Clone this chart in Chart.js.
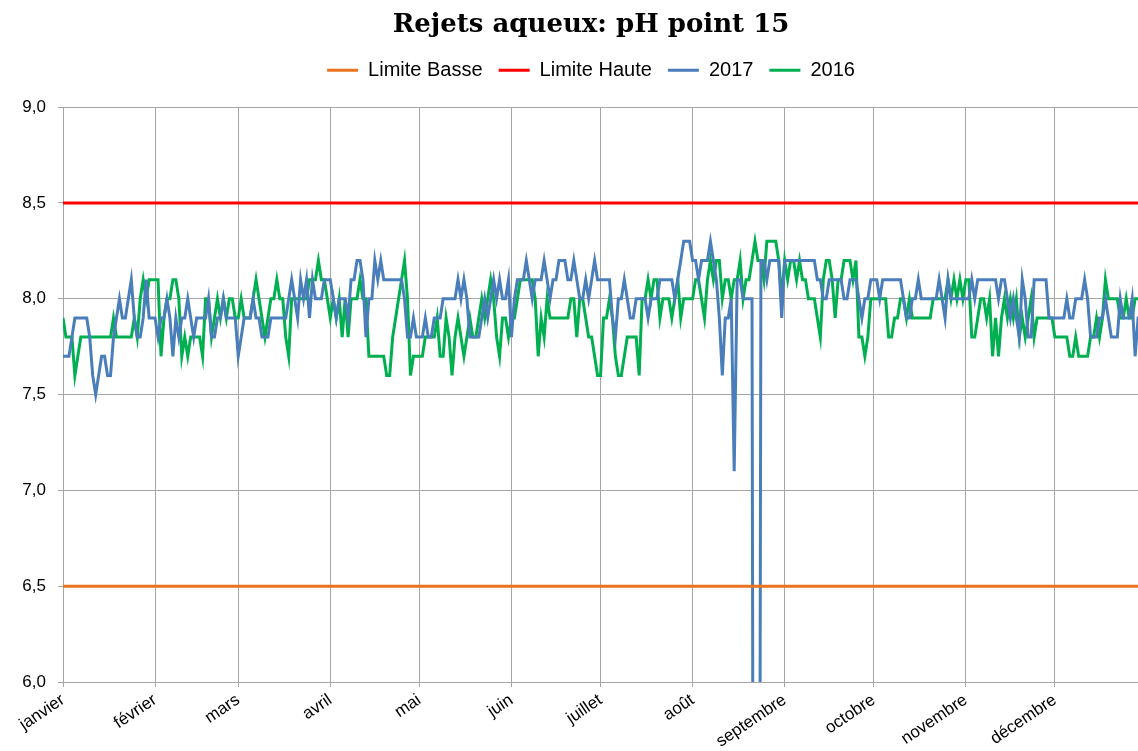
<!DOCTYPE html>
<html>
<head>
<meta charset="utf-8">
<title>Rejets aqueux: pH point 15</title>
<script src="https://cdn.jsdelivr.net/npm/chart.js@4/dist/chart.umd.min.js"></script>
<style>
  html, body { margin: 0; padding: 0; background: #fff; overflow: hidden; }
  #wrap { width: 1182px; height: 751px; }
</style>
</head>
<body>
<div id="wrap"><canvas id="myChart" width="1182" height="751"></canvas></div>
<script>
// month names and the day of year where each month starts
var mois = ['janvier', 'février', 'mars', 'avril', 'mai', 'juin', 'juillet', 'août', 'septembre', 'octobre', 'novembre', 'décembre'];
var debutMois = [0, 31, 59, 90, 120, 151, 181, 212, 243, 273, 304, 334];
var yTicks = [6.0, 6.5, 7.0, 7.5, 8.0, 8.5, 9.0];

var limiteBasse = 6.5;
var limiteHaute = 8.5;

// daily pH, one line per month (0 = empty cell plotted as zero by the source sheet)
var ph2017 = [
  7.7,7.7,7.7,7.8,7.9,7.9,7.9,7.9,7.9,7.8, 7.6,7.5,7.6,7.7,7.7,7.6,7.6,7.8,7.9,8.0, 7.9,7.9,8.0,8.1,7.9,7.8,7.8,7.9,8.1,7.9,7.9,
  7.9,7.8,7.9,7.9,8.0,7.9,7.7,7.9,7.8,7.9, 7.9,8.0,7.9,7.8,7.9,7.9,7.9,7.9,8.0,7.8, 7.8,7.9,7.9,8.0,7.9,7.9,7.9,7.9,
  7.7,7.8,7.9,7.9,7.9,8.0,7.9,7.9,7.8,7.8, 7.8,7.9,7.9,7.9,7.9,7.9,7.9,8.0,8.1,8.0, 7.9,8.1,8.0,8.1,7.9,8.1,8.0,8.0,8.0,8.1,8.1,
  8.1,8.0,7.9,8.0,8.0,8.0,7.9,8.1,8.1,8.2, 8.2,8.1,7.8,8.0,8.0,8.2,8.1,8.2,8.1,8.1, 8.1,8.1,8.1,8.1,8.1,8.0,7.8,7.8,7.9,7.8,
  7.8,7.8,7.9,7.8,7.8,7.9,7.9,7.9,8.0,8.0, 8.0,8.0,8.0,8.1,8.0,8.1,8.0,7.8,7.8,7.8, 7.8,7.9,8.0,7.9,8.0,8.1,8.0,8.1,8.0,8.0,8.1,
  7.8,8.0,8.1,8.1,8.1,8.2,8.1,8.0,8.1,8.1, 8.1,8.2,8.1,8.0,8.1,8.1,8.2,8.2,8.2,8.1, 8.1,8.2,8.1,8.0,8.0,8.1,8.0,8.1,8.2,8.1,
  8.1,8.1,8.1,8.1,7.9,7.8,8.0,8.0,8.1,8.0, 7.9,7.9,8.0,8.0,8.0,8.0,7.9,8.0,8.0,8.0, 8.1,8.1,8.1,8.1,8.1,8.0,8.1,8.2,8.3,8.3,8.3,
  8.2,8.2,8.1,8.2,8.2,8.2,8.3,8.2,8.1,7.9, 7.6,7.9,7.9,8.0,7.1,8.1,8.1,8.0,8.0,8.0, 8.0,0,0,8.2,8.2,8.1,8.2,8.2,8.2,8.2,7.9,
  8.2,8.2,8.2,8.2,8.2,8.2,8.2,8.2,8.2,8.2, 8.2,8.1,8.1,8.0,8.0,8.1,8.1,8.1,8.1,8.1, 8.0,8.0,8.1,8.1,8.1,8.0,7.9,8.0,8.0,8.1,
  8.1,8.1,8.0,8.1,8.1,8.1,8.1,8.1,8.1,8.1, 8.0,7.9,7.9,8.0,8.0,8.1,8.0,8.0,8.0,8.0, 8.0,8.0,8.1,8.0,7.9,8.1,8.0,8.0,8.0,8.0,8.0,
  8.0,8.0,8.1,8.0,8.1,8.1,8.1,8.1,8.1,8.1, 8.1,8.0,8.1,8.1,8.0,7.9,8.0,7.9,7.8,8.1, 8.0,7.8,7.8,8.1,8.1,8.1,8.1,8.1,7.9,7.9,
  7.9,7.9,7.9,7.9,8.0,7.9,7.9,8.0,8.0,8.0, 8.1,8.0,7.8,7.8,7.8,7.9,7.9,8.0,7.9,7.8, 7.8,7.8,8.0,7.9,7.9,7.9,8.0,7.7,7.9,7.9,8.0
];

var ph2016 = [
  7.9,7.8,7.8,7.8,7.6,7.7,7.8,7.8,7.8,7.8, 7.8,7.8,7.8,7.8,7.8,7.8,7.8,7.9,7.8,7.8, 7.8,7.8,7.8,7.8,7.9,7.8,8.0,8.1,8.0,8.1,8.1,
  8.1,8.1,7.7,7.9,8.0,8.0,8.1,8.1,8.0,7.7, 7.8,7.7,7.8,7.8,7.8,7.8,7.7,8.0,8.0,7.8, 7.9,8.0,7.9,8.0,7.9,8.0,8.0,7.9,
  7.9,8.0,7.9,7.9,7.9,8.0,8.1,8.0,7.9,7.8, 7.9,8.0,8.0,8.1,8.0,8.0,7.8,7.7,8.0,8.0, 8.0,8.0,8.0,8.0,8.1,8.1,8.1,8.2,8.1,8.1,8.0,
  7.9,8.0,7.9,8.0,7.8,8.0,7.8,8.0,8.0,8.0, 8.1,8.0,8.0,7.7,7.7,7.7,7.7,7.7,7.7,7.6, 7.6,7.8,7.9,8.0,8.1,8.2,8.0,7.6,7.7,7.7,
  7.7,7.7,7.8,7.8,7.8,7.8,7.9,7.7,7.7,7.9, 7.8,7.6,7.8,7.9,7.8,7.7,7.8,7.9,7.8,7.8, 7.9,8.0,7.9,8.0,8.1,8.0,7.8,7.7,7.9,7.9,7.8,
  7.9,7.9,8.0,8.1,8.1,8.1,8.1,8.1,8.0,7.7, 7.9,7.8,8.0,7.9,7.9,7.9,7.9,7.9,7.9,7.9, 8.0,8.0,7.8,8.0,8.0,7.9,7.8,7.8,7.7,7.6,
  7.6,7.9,7.9,8.0,7.9,7.7,7.6,7.6,7.7,7.8, 7.8,7.8,7.8,7.6,8.0,8.0,8.1,8.0,8.1,8.1, 7.9,8.0,8.0,8.0,7.9,8.0,8.1,7.9,8.0,8.0,8.0,
  8.0,8.1,8.1,8.0,7.9,8.1,8.2,8.1,8.2,8.2, 8.0,8.1,8.1,8.0,8.1,8.1,8.2,8.0,8.1,8.1, 8.2,8.3,8.2,8.2,8.1,8.3,8.3,8.3,8.3,8.2,8.0,
  8.2,8.1,8.2,8.2,8.1,8.2,8.1,8.1,8.0,8.0, 8.0,7.9,7.8,8.1,8.2,8.2,8.1,7.9,8.1,8.1, 8.2,8.2,8.2,8.1,8.2,7.8,7.8,7.7,7.8,8.0,
  8.0,8.0,8.0,8.0,8.0,7.8,7.8,7.9,7.9,8.0, 8.0,7.9,8.0,7.9,7.9,7.9,7.9,7.9,7.9,7.9, 8.0,8.0,8.0,8.0,8.0,8.1,8.0,8.1,8.0,8.1,8.0,
  8.1,8.1,7.8,7.8,7.9,8.0,8.0,7.9,8.0,7.7, 7.9,7.7,7.9,8.0,7.9,8.0,7.9,8.0,7.8,7.9, 7.8,7.9,8.0,7.8,7.9,7.9,7.9,7.9,7.9,7.9,
  7.8,7.8,7.8,7.8,7.8,7.7,7.7,7.8,7.7,7.7, 7.7,7.7,7.8,7.8,7.9,7.8,7.9,8.1,8.0,8.0, 8.0,8.0,7.9,7.9,8.0,7.9,7.9,8.0,8.0,8.0,8.0
];

var jours = ph2017.map(function (v, i) { return i; });

function serie(valeurs) {
  return valeurs.map(function (v, i) { return { x: jours[i], y: v }; });
}
function constante(v) {
  return jours.map(function (j) { return { x: j, y: v }; });
}

var ctx = document.getElementById('myChart');
var chart = new Chart(ctx, {
  type: 'line',
  data: {
    datasets: [
      { label: 'Limite Basse', data: constante(limiteBasse), borderColor: '#E9731E', backgroundColor: '#E9731E' },
      { label: 'Limite Haute', data: constante(limiteHaute), borderColor: '#FF0000', backgroundColor: '#FF0000' },
      { label: '2017', data: serie(ph2017), borderColor: '#4A7EBB', backgroundColor: '#4A7EBB' },
      { label: '2016', data: serie(ph2016), borderColor: '#00B050', backgroundColor: '#00B050' }
    ]
  },
  options: {
    responsive: false,
    animation: false,
    devicePixelRatio: 1,
    elements: {
      point: { radius: 0 },
      line: { borderWidth: 3, tension: 0 }
    },
    layout: { padding: { top: 6, right: 0, left: 0, bottom: 0 } },
    plugins: {
      title: {
        display: true,
        text: 'Rejets aqueux: pH point 15',
        color: '#000',
        font: { family: 'DejaVu Serif', size: 26, weight: 'bold' },
        padding: { top: 4, bottom: 3 }
      },
      // empty block between legend and plot, only to push the plot down
      subtitle: {
        display: true,
        text: '',
        weight: 500,
        font: { size: 2, lineHeight: 1 },
        padding: { top: 0, bottom: 15 }
      },
      legend: {
        labels: {
          usePointStyle: true,
          pointStyle: 'line',
          pointStyleWidth: 31,
          color: '#000',
          font: { family: 'Liberation Sans', size: 20 },
          padding: 16,
          generateLabels: function (c) {
            return c.data.datasets.map(function (ds, i) {
              return {
                text: ds.label, datasetIndex: i, pointStyle: 'line',
                strokeStyle: ds.borderColor, fillStyle: ds.borderColor, lineWidth: 3, fontColor: '#000'
              };
            });
          }
        }
      },
      tooltip: { enabled: false }
    },
    scales: {
      x: {
        type: 'linear',
        min: 0,
        max: 365,
        afterBuildTicks: function (s) {
          s.ticks = debutMois.map(function (d) { return { value: d }; });
        },
        afterFit: function (s) { s.height = 69; },
        ticks: {
          autoSkip: false,
          minRotation: 34,
          maxRotation: 34,
          color: '#000',
          font: { family: 'Liberation Sans', size: 17 },
          callback: function (v) { return mois[debutMois.indexOf(v)]; }
        },
        grid: { color: '#A6A6A6', lineWidth: 1, drawTicks: true, tickLength: 5 },
        border: { color: '#A6A6A6' }
      },
      y: {
        min: 6,
        max: 9,
        afterBuildTicks: function (s) {
          s.ticks = yTicks.map(function (v) { return { value: v }; });
        },
        afterFit: function (s) { s.width = 63; },
        ticks: {
          color: '#000',
          font: { family: 'Liberation Sans', size: 17 },
          padding: 12,
          callback: function (v) { return v.toFixed(1).replace('.', ','); }
        },
        grid: { color: '#A6A6A6', lineWidth: 1, tickLength: 5 },
        border: { color: '#A6A6A6' }
      },
      // blank right margin of the original chart (cut off by the picture)
      marge: {
        position: 'right',
        min: 6,
        max: 9,
        afterFit: function (s) { s.width = 35; },
        ticks: { display: false },
        grid: { display: false },
        border: { display: false }
      }
    }
  }
});
</script>
</body>
</html>
